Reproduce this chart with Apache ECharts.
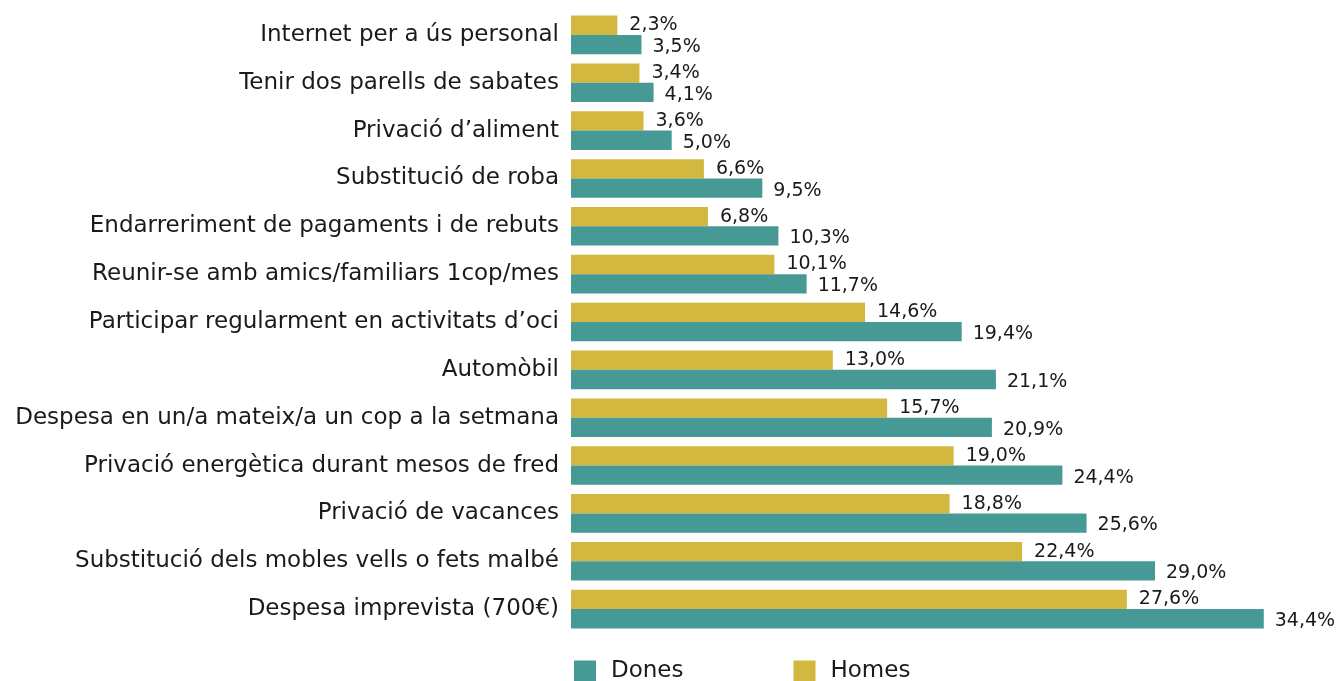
<!DOCTYPE html>
<html>
<head>
<meta charset="utf-8">
<style>html,body{margin:0;padding:0;background:#fff;}#c{width:1339px;height:681px;}</style>
<script src="https://cdn.jsdelivr.net/npm/echarts@6/dist/echarts.min.js"></script>
</head>
<body>
<div id="c"></div>
<script>
const categories = [
  "Internet per a ús personal",
  "Tenir dos parells de sabates",
  "Privació d’aliment",
  "Substitució de roba",
  "Endarreriment de pagaments i de rebuts",
  "Reunir-se amb amics/familiars 1cop/mes",
  "Participar regularment en activitats d’oci",
  "Automòbil",
  "Despesa en un/a mateix/a un cop a la setmana",
  "Privació energètica durant mesos de fred",
  "Privació de vacances",
  "Substitució dels mobles vells o fets malbé",
  "Despesa imprevista (700€)"
];
const homes = [2.3, 3.4, 3.6, 6.6, 6.8, 10.1, 14.6, 13.0, 15.7, 19.0, 18.8, 22.4, 27.6];
const dones = [3.5, 4.1, 5.0, 9.5, 10.3, 11.7, 19.4, 21.1, 20.9, 24.4, 25.6, 29.0, 34.4];

const FONT = 'DejaVu Sans';
const fmt = p => p.value.toFixed(1).replace('.', ',') + '%';
const chart = echarts.init(document.getElementById('c'), null, {renderer: 'canvas'});
chart.setOption({
  animation: false,
  textStyle: {fontFamily: FONT, color: '#1a1a1a'},
  grid: {left: 571, right: 43, top: 11, bottom: 48, containLabel: false},
  legend: {
    data: ['Dones', 'Homes'],
    left: 574, top: 660, padding: 0,
    itemWidth: 22, itemHeight: 22, itemGap: 110,
    icon: 'rect',
    textStyle: {fontFamily: FONT, fontSize: 23, color: '#1a1a1a', padding: [0, 0, 0, 10]}
  },
  xAxis: {
    type: 'value', min: 0, max: 36,
    show: false, splitLine: {show: false}
  },
  yAxis: {
    type: 'category', data: categories, inverse: true,
    axisLine: {show: false}, axisTick: {show: false}, splitLine: {show: false},
    axisLabel: {fontFamily: FONT, fontSize: 23, color: '#1a1a1a', margin: 12}
  },
  series: [
    {
      name: 'Homes', type: 'bar', data: homes, barWidth: 19.3, barGap: '0%',
      itemStyle: {color: '#D3B83F'},
      label: {show: true, position: 'right', distance: 12, formatter: fmt,
        fontFamily: FONT, fontSize: 19, color: '#1a1a1a'}
    },
    {
      name: 'Dones', type: 'bar', data: dones, barWidth: 19.3, barGap: '0%',
      itemStyle: {color: '#479996'},
      label: {show: true, position: 'right', distance: 11, offset: [0, 2.5], formatter: fmt,
        fontFamily: FONT, fontSize: 19, color: '#1a1a1a'}
    }
  ]
});
</script>
</body>
</html>
